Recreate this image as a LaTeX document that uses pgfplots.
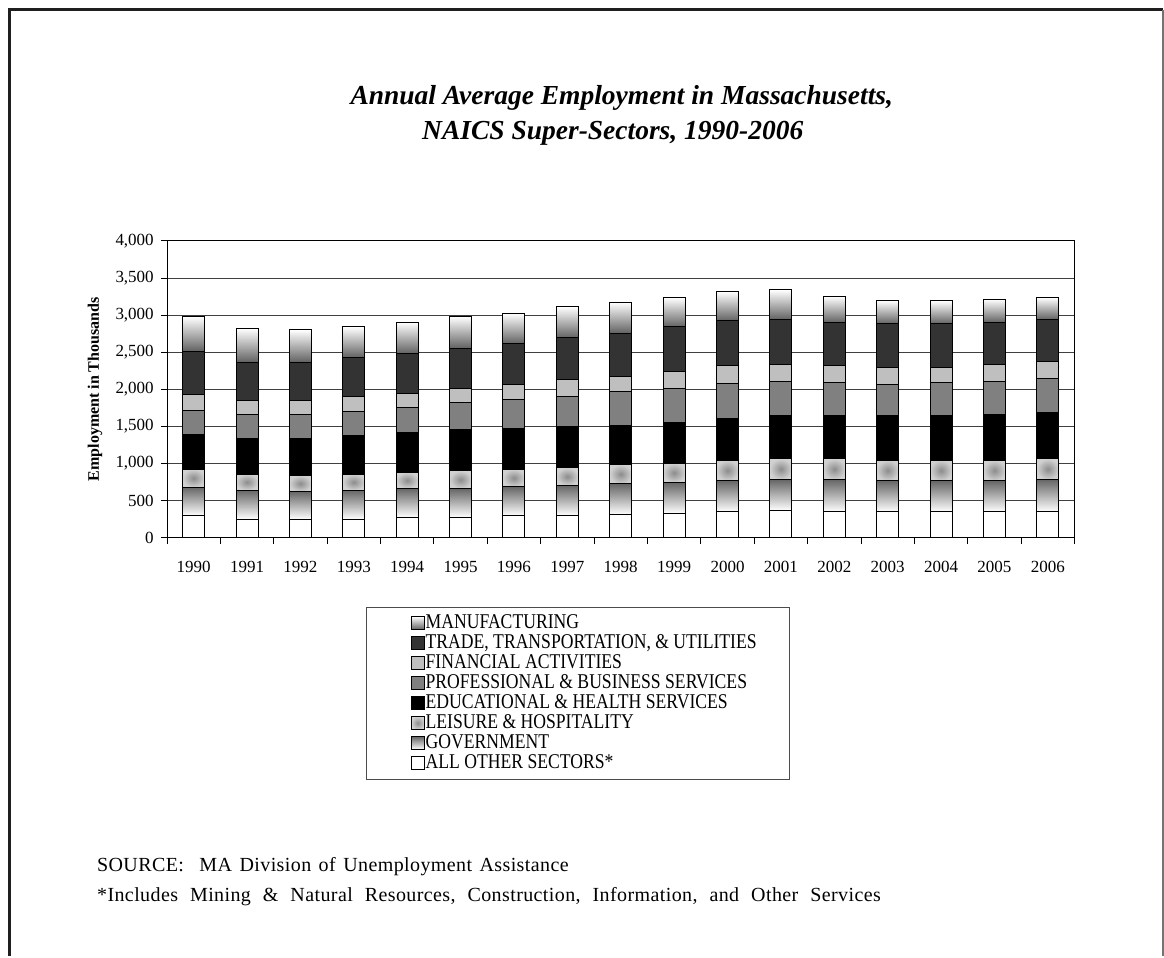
\documentclass[border=0pt]{standalone}
\usepackage{pgfplots}
\pgfplotsset{compat=1.18}
\usepackage{fontspec}
\setmainfont{Liberation Serif}
\newfontfamily\legfont[FakeStretch=0.84]{Liberation Serif}
\newfontfamily\srcfont[LetterSpace=2]{Liberation Serif}

\tikzset{
 s1/.style={fill=white},
 s2/.style={top color=black!60, bottom color=white},
 s3/.style={inner color=black!45, outer color=black!18},
 s4/.style={fill=black},
 s5/.style={fill=black!50},
 s6/.style={fill=black!25},
 s7/.style={fill=black!80},
 s8/.style={top color=white, bottom color=black!62},
}
\pgfplotsset{
 sq/.style={legend image code/.code={\path[draw=none, fill=none, shade=false] (0pt,0pt) -- (13pt,0pt); \draw[##1, draw=black, line width=0.8pt] (13pt,-6.5pt) rectangle (26pt,6.5pt);}},
 frame/.style={at={(167pt,418pt)}, anchor=south west,
   width=908pt, height=297pt, scale only axis,
   xmin=-0.5, xmax=16.5, ymin=0, ymax=4000},
 yr/.style={frame, hide axis, ybar stacked, bar width=22pt,
   every axis plot/.append style={draw=black, line width=1pt}},
}
% one stacked bar per year: x, other, government, leisure, educ/health, prof/business, financial, trade, manufacturing
\newcommand\yearbar[9]{%
\begin{axis}[yr]
\addplot[s1] coordinates {(#1,#2)};
\addplot[s2] coordinates {(#1,#3)};
\addplot[s3] coordinates {(#1,#4)};
\addplot[s4] coordinates {(#1,#5)};
\addplot[s5] coordinates {(#1,#6)};
\addplot[s6] coordinates {(#1,#7)};
\addplot[s7] coordinates {(#1,#8)};
\addplot[s8] coordinates {(#1,#9)};
\end{axis}}

\begin{document}
\begin{tikzpicture}
\path (0pt,0pt) rectangle (1164pt,956pt);
\draw[line width=3pt, black!88] (9.5pt,0pt) -- (9.5pt,946pt) -- (1163pt,946pt);
\draw[line width=2pt, black!55] (1163pt,946pt) -- (1163pt,0pt);
\node[font=\fontsize{27.5}{35}\selectfont\bfseries\itshape, anchor=base] at (622pt,851pt) {Annual Average Employment in Massachusetts,};
\node[font=\fontsize{27.5}{35}\selectfont\bfseries\itshape, anchor=base] at (613pt,816pt) {NAICS Super-Sectors, 1990-2006};
\node[anchor=base west, inner sep=0pt, font=\srcfont\fontsize{20}{22}\selectfont] at (97pt,84pt) {\spaceskip=7.5pt plus 1pt\relax SOURCE:\hspace{8pt} MA Division of Unemployment Assistance};
\node[anchor=base west, inner sep=0pt, font=\srcfont\fontsize{20}{22}\selectfont] at (97pt,54pt) {\spaceskip=12pt plus 1pt\relax *Includes Mining \& Natural Resources, Construction, Information, and Other Services};

\begin{axis}[
  frame,
  xtick={0,1,2,3,4,5,6,7,8,9,10,11,12,13,14,15,16},
  xticklabels={1990,1991,1992,1993,1994,1995,1996,1997,1998,1999,2000,2001,2002,2003,2004,2005,2006},
  minor xtick={-0.5,0.5,...,16.5},
  ytick={0,500,...,4000},
  scaled y ticks=false,
  major x tick style={draw=none},
  tick align=outside, tick pos=left,
  major tick length=6pt, minor tick length=6pt,
  tick style={black, line width=0.8pt},
  ymajorgrids, grid style={black!75, line width=0.8pt},
  axis line style={black, line width=0.8pt},
  /pgf/number format/assume math mode=true,
  /pgf/number format/1000 sep={,},
  tick label style={font=\fontsize{17}{20}\selectfont},
  xticklabel style={anchor=base, yshift=-29pt},
  yticklabel style={anchor=east, inner sep=0pt, xshift=-7pt},
  ylabel={Employment in Thousands},
  ylabel style={font=\fontsize{16}{18}\selectfont\bfseries, at={(axis description cs:-0.0793,0.5)}, anchor=center},
  legend cell align=left,
  legend style={at={(0.2192,-0.2323)}, anchor=north west, draw=black!70, line width=0.8pt,
    font=\legfont\fontsize{21}{20}\selectfont, row sep=0pt, inner xsep=32pt, inner ysep=6pt,
    nodes={inner sep=1pt, text height=14pt, text depth=4pt}},
]
\addlegendimage{sq, s8}\addlegendentry{MANUFACTURING}
\addlegendimage{sq, s7}\addlegendentry{TRADE, TRANSPORTATION, \& UTILITIES}
\addlegendimage{sq, s6}\addlegendentry{FINANCIAL ACTIVITIES}
\addlegendimage{sq, s5}\addlegendentry{PROFESSIONAL \& BUSINESS SERVICES}
\addlegendimage{sq, s4}\addlegendentry{EDUCATIONAL \& HEALTH SERVICES}
\addlegendimage{sq, s3}\addlegendentry{LEISURE \& HOSPITALITY}
\addlegendimage{sq, s2}\addlegendentry{GOVERNMENT}
\addlegendimage{sq, s1}\addlegendentry{ALL OTHER SECTORS*}
\end{axis}

\yearbar{0}{296}{386}{243}{471}{318}{211}{584}{471}
\yearbar{1}{247}{395}{215}{476}{323}{189}{520}{453}
\yearbar{2}{247}{377}{215}{494}{323}{189}{520}{435}
\yearbar{3}{247}{395}{215}{516}{328}{206}{521}{413}
\yearbar{4}{274}{390}{216}{538}{341}{184}{539}{422}
\yearbar{5}{274}{390}{238}{552}{364}{188}{548}{426}
\yearbar{6}{296}{391}{238}{552}{386}{206}{543}{413}
\yearbar{7}{296}{409}{237}{557}{408}{225}{561}{417}
\yearbar{8}{310}{417}{260}{530}{449}{206}{584}{417}
\yearbar{9}{328}{417}{260}{552}{449}{229}{606}{395}
\yearbar{10}{350}{417}{279}{556}{480}{234}{606}{395}
\yearbar{11}{368}{417}{279}{579}{466}{229}{602}{399}
\yearbar{12}{350}{435}{279}{579}{444}{229}{583}{355}
\yearbar{13}{350}{417}{279}{597}{426}{229}{583}{314}
\yearbar{14}{350}{417}{279}{597}{444}{211}{583}{310}
\yearbar{15}{350}{417}{279}{615}{448}{229}{561}{314}
\yearbar{16}{350}{435}{279}{619}{467}{229}{561}{296}
\end{tikzpicture}
\end{document}
